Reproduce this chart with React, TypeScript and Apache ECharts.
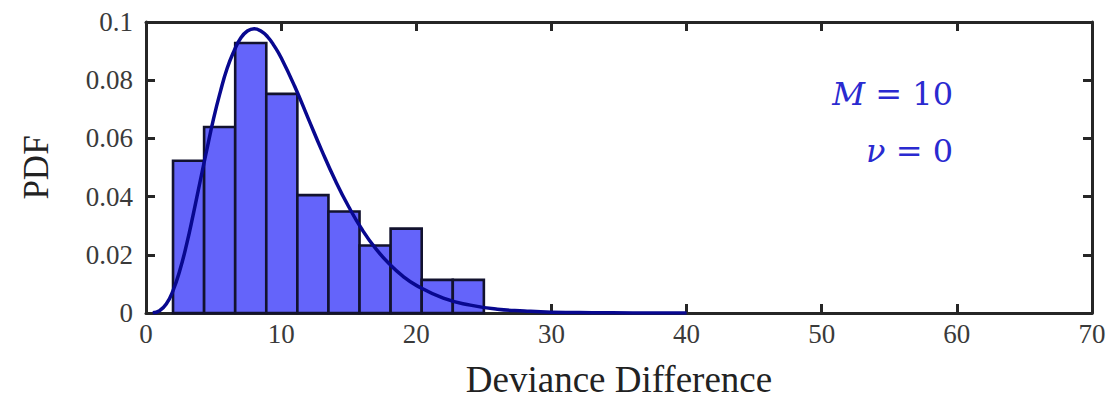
import React, { useEffect, useRef } from "react";
import * as echarts from "echarts";

const binEdges = [2.0, 4.3, 6.6, 8.9, 11.2, 13.5, 15.8, 18.1, 20.4, 22.7, 25.0];
const binHeights = [0.0523, 0.0639, 0.0928, 0.0753, 0.0405, 0.0349, 0.0232, 0.029, 0.0114, 0.0114];

const curveX = [0.5, 1, 1.5, 2, 2.5, 3, 3.5, 4, 4.5, 5, 5.5, 6, 6.5, 7, 7.5, 8, 8.5, 9, 9.5, 10, 11, 12, 13, 14, 15, 16, 17, 18, 19, 20, 22, 24, 26, 28, 30, 33, 36, 40];
const curveY = [0.00006, 0.0008, 0.0031, 0.0077, 0.0146, 0.0235, 0.034, 0.0451, 0.0561, 0.0668, 0.076, 0.084, 0.0899, 0.0944, 0.0969, 0.0977, 0.0969, 0.0949, 0.0917, 0.0877, 0.0779, 0.0669, 0.0559, 0.0456, 0.0365, 0.0286, 0.0221, 0.0169, 0.0127, 0.0095, 0.0051, 0.0027, 0.0013, 0.0007, 0.0003, 0.0001, 0.00003, 0.000005];

const xTicks = { min: 0, max: 70, interval: 10 };
const yTicks = { min: 0, max: 0.1, interval: 0.02 };

const annotations = ["{i|M} = 10", "{i|ν} = 0"];

export default function App() {
  const ref = useRef<HTMLDivElement>(null);
  useEffect(() => {
    document.body.style.margin = "0";
    if (!ref.current) return;
    const chart = echarts.init(ref.current, null, { renderer: "svg" });
    const font = "'Liberation Serif', 'Times New Roman', serif";
    const mathFont = "'DejaVu Serif', serif";
    const axisLine = { show: true, onZero: false, lineStyle: { color: "#262626", width: 3 } };
    const axisTick = { show: true, inside: true, length: 9, lineStyle: { color: "#262626", width: 3 } };
    const histData = binHeights.map((h, i) => [binEdges[i], binEdges[i + 1], h]);
    const annColor = "#2a2ad0";
    chart.setOption({
      animation: false,
      grid: { left: 146, right: 20, top: 22, bottom: 83, containLabel: false },
      xAxis: [
        {
          type: "value",
          ...xTicks,
          position: "bottom",
          axisLine,
          axisTick,
          splitLine: { show: false },
          axisLabel: { color: "#3a3a3a", fontFamily: font, fontSize: 27, margin: 7 },
          name: "Deviance Difference",
          nameLocation: "middle",
          nameGap: 48,
          nameTextStyle: { color: "#222", fontFamily: font, fontSize: 37 },
        },
        {
          type: "value",
          ...xTicks,
          position: "top",
          axisLine,
          axisTick,
          splitLine: { show: false },
          axisLabel: { show: false },
        },
      ],
      yAxis: [
        {
          type: "value",
          ...yTicks,
          position: "left",
          axisLine,
          axisTick,
          splitLine: { show: false },
          axisLabel: { color: "#3a3a3a", fontFamily: font, fontSize: 27, margin: 13 },
          name: "PDF",
          nameLocation: "middle",
          nameGap: 92,
          nameTextStyle: { color: "#222", fontFamily: font, fontSize: 35 },
        },
        {
          type: "value",
          ...yTicks,
          position: "right",
          axisLine,
          axisTick,
          splitLine: { show: false },
          axisLabel: { show: false },
        },
      ],
      series: [
        {
          type: "custom",
          xAxisIndex: 0,
          yAxisIndex: 0,
          data: histData,
          renderItem: (params: any, api: any) => {
            const x0 = api.value(0);
            const x1 = api.value(1);
            const h = api.value(2);
            const p0 = api.coord([x0, h]);
            const p1 = api.coord([x1, 0]);
            return {
              type: "rect",
              shape: { x: p0[0], y: p0[1], width: p1[0] - p0[0], height: p1[1] - p0[1] },
              style: { fill: "#6464fa", stroke: "#12122e", lineWidth: 2.6 },
            };
          },
          z: 2,
        },
        {
          type: "line",
          xAxisIndex: 0,
          yAxisIndex: 0,
          data: curveX.map((x, i) => [x, curveY[i]]),
          smooth: true,
          showSymbol: false,
          lineStyle: { color: "#08088f", width: 3.5 },
          z: 3,
        },
      ],
      graphic: annotations.map((t, i) => ({
        type: "text",
        right: 1112 - 953,
        top: 78 + i * 57,
        style: {
          text: t,
          fill: annColor,
          font: `32px ${mathFont}`,
          align: "right",
          rich: { i: { fontStyle: "italic", fontFamily: mathFont, fontSize: 32, fill: annColor } },
        },
      })),
    });
    return () => chart.dispose();
  }, []);
  return <div ref={ref} style={{ width: 1112, height: 403 }} />;
}
